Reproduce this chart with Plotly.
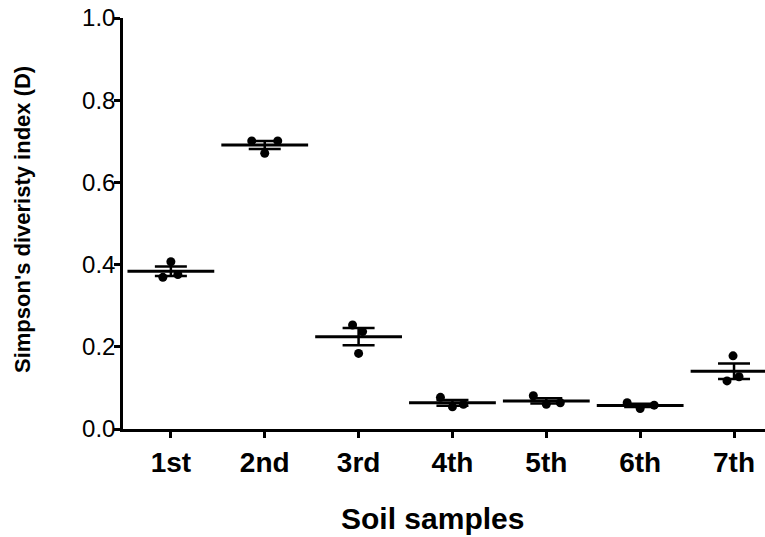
import numpy as np
import plotly.graph_objects as go

# ---------------- data ----------------
categories = ["1st", "2nd", "3rd", "4th", "5th", "6th", "7th"]
sample_1st = [0.369, 0.407, 0.376]
sample_2nd = [0.701, 0.671, 0.701]
sample_3rd = [0.253, 0.184, 0.237]
sample_4th = [0.077, 0.054, 0.060]
sample_5th = [0.081, 0.060, 0.064]
sample_6th = [0.064, 0.050, 0.058]
sample_7th = [0.117, 0.178, 0.127]
y_tick_values = [0.0, 0.2, 0.4, 0.6, 0.8, 1.0]
y_tick_labels = ["0.0", "0.2", "0.4", "0.6", "0.8", "1.0"]
x_title = "Soil samples"
y_title = "Simpson's diveristy index (D)"

samples = [sample_1st, sample_2nd, sample_3rd, sample_4th,
           sample_5th, sample_6th, sample_7th]

# ---------------- style / layout ----------------
W, H = 765, 537
ML, MR, MT, MB = 123, 0, 18, 108
X_RANGE = [-0.51, 6.33]
PLOT_W = W - ML - MR
PLOT_H = H - MT - MB
PX_PER_UNIT = PLOT_W / (X_RANGE[1] - X_RANGE[0])
# horizontal scatter offsets of the dots (pixels), left-to-right
JITTER_PX = [[-8, 0, 7], [-13, 0, 13], [-6, 0, 4], [-12, 0, 11],
             [-13, 0, 14], [-13, 0, 14], [-7, -1, 5]]
FONT = "Liberation Sans, Arial, sans-serif"


def paper_x(px):
    return (px - ML) / PLOT_W


def paper_y(py):
    return (H - MB - py) / PLOT_H


fig = go.Figure()

# individual points
px_x, px_y = [], []
for i, vals in enumerate(samples):
    for j, v in enumerate(vals):
        px_x.append(i + JITTER_PX[i][j] / PX_PER_UNIT)
        px_y.append(v)
fig.add_trace(go.Scatter(
    x=px_x, y=px_y, mode="markers",
    marker=dict(symbol="circle", size=9, color="black"),
    showlegend=False, hoverinfo="y"))

# means and SEM
means = [float(np.mean(v)) for v in samples]
sems = [float(np.std(v, ddof=1) / np.sqrt(len(v))) for v in samples]
xs = list(range(len(categories)))

fig.add_trace(go.Scatter(
    x=xs, y=means, mode="markers",
    marker=dict(symbol="line-ew", size=62, line=dict(width=3, color="black")),
    showlegend=False, hoverinfo="y"))
fig.add_trace(go.Scatter(
    x=xs, y=means, mode="markers",
    marker=dict(size=1, color="rgba(0,0,0,0)"),
    error_y=dict(type="data", array=sems, visible=True,
                 color="black", thickness=2.5, width=16),
    showlegend=False, hoverinfo="skip"))

fig.update_layout(
    width=W, height=H,
    margin=dict(l=ML, r=MR, t=MT, b=MB, autoexpand=False),
    paper_bgcolor="white", plot_bgcolor="white",
    font=dict(family=FONT, color="black"),
    showlegend=False,
    annotations=[
        dict(text="<b>" + x_title + "</b>", xref="paper", yref="paper",
             x=paper_x(432), y=paper_y(518), xanchor="center",
             yanchor="middle", showarrow=False,
             font=dict(family=FONT, size=30, color="black")),
        dict(text="<b>" + y_title + "</b>", xref="paper", yref="paper",
             x=paper_x(23), y=paper_y(220), xanchor="center",
             yanchor="middle", textangle=-90, showarrow=False,
             font=dict(family=FONT, size=22, color="black")),
    ],
)
fig.update_xaxes(
    range=X_RANGE, tickmode="array", tickvals=xs, ticktext=categories,
    showgrid=False, zeroline=False, showline=True, linecolor="black",
    linewidth=2.5, ticks="outside", ticklen=6, tickwidth=2.5,
    tickcolor="black", ticklabelstandoff=1,
    tickfont=dict(family=FONT, size=28, color="black", weight="bold"),
)
fig.update_yaxes(
    range=[0, 1.0], tickmode="array", tickvals=y_tick_values,
    ticktext=y_tick_labels,
    showgrid=False, zeroline=False, showline=True, linecolor="black",
    linewidth=2.5, ticks="outside", ticklen=6, tickwidth=2.5,
    tickcolor="black", ticklabelstandoff=-6,
    tickfont=dict(family=FONT, size=24, color="black"),
)

fig.write_html("out.html")
